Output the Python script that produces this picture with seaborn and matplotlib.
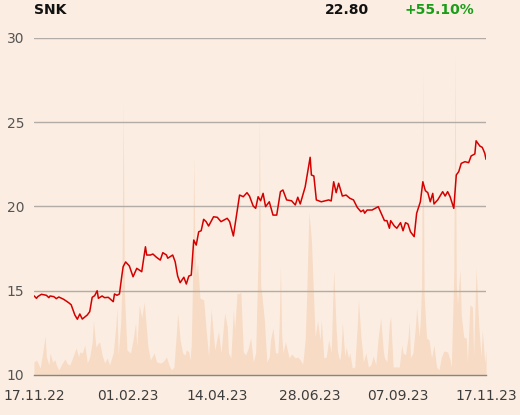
import numpy as np
import pandas as pd
import matplotlib
matplotlib.use("Agg")
import matplotlib.pyplot as plt
import matplotlib.dates as mdates
import seaborn as sns

# ---- data ----
start_date = "2022-11-17"
price_days = [0, 2, 3, 6, 10, 12, 13, 16, 18, 20, 24, 28, 30, 33, 35, 37, 39, 43, 45, 47,
              49, 51, 52, 55, 57, 60, 64, 65, 67, 69, 71, 72, 74, 77, 80, 83, 87, 90, 91, 94,
              96, 99, 102, 104, 107, 108, 112, 114, 116, 118, 121, 123, 125, 127, 129, 131, 133, 135, 137, 139,
              141, 145, 148, 151, 156, 158, 161, 164, 166, 169, 172, 174, 177, 179, 181, 183, 185, 187, 190, 193,
              196, 199, 201, 204, 208, 211, 213, 215, 219, 223, 224, 226, 228, 232, 238, 240, 242, 244, 246, 249,
              252, 255, 258, 261, 264, 266, 267, 269, 273, 278, 281, 283, 285, 287, 288, 291, 293, 296, 298, 300,
              302, 304, 307, 309, 312, 314, 316, 318, 320, 322, 323, 326, 330, 332, 334, 336, 339, 341, 343, 345,
              348, 351, 353, 356, 357, 360, 362, 364, 365]
price = [14.70, 14.55, 14.65, 14.79, 14.73, 14.59, 14.69, 14.65, 14.53, 14.63, 14.49, 14.29, 14.17, 13.56, 13.31, 13.62, 13.32, 13.56, 13.76, 14.61,
         14.71, 15.00, 14.55, 14.69, 14.59, 14.61, 14.35, 14.81, 14.73, 14.81, 15.93, 16.43, 16.71, 16.47, 15.83, 16.33, 16.13, 17.61, 17.12, 17.12,
         17.18, 16.98, 16.82, 17.26, 17.12, 16.93, 17.12, 16.72, 15.87, 15.48, 15.80, 15.40, 15.87, 15.93, 18.01, 17.71, 18.50, 18.56, 19.24, 19.10,
         18.84, 19.39, 19.36, 19.10, 19.30, 19.10, 18.25, 19.69, 20.68, 20.58, 20.82, 20.62, 20.03, 19.89, 20.58, 20.34, 20.78, 19.99, 20.28, 19.49,
         19.49, 20.88, 20.98, 20.39, 20.34, 20.09, 20.55, 20.15, 21.17, 22.92, 21.87, 21.81, 20.39, 20.28, 20.39, 20.33, 21.47, 20.82, 21.38, 20.62,
         20.68, 20.49, 20.39, 19.95, 19.69, 19.79, 19.60, 19.79, 19.79, 19.99, 19.49, 19.16, 19.16, 18.71, 19.16, 18.84, 18.71, 19.04, 18.56, 19.04,
         18.96, 18.50, 18.21, 19.60, 20.28, 21.47, 20.94, 20.82, 20.28, 20.78, 20.15, 20.39, 20.88, 20.62, 20.88, 20.58, 19.89, 21.87, 22.07, 22.56,
         22.66, 22.60, 23.00, 23.12, 23.90, 23.59, 23.51, 23.16, 22.80]

volume_days = [0, 2, 5, 7, 9, 10, 12, 13, 15, 17, 18, 20, 22, 25, 27, 29, 32, 34, 36, 37,
               39, 41, 43, 45, 47, 48, 50, 52, 53, 55, 57, 59, 61, 64, 66, 67, 68, 70, 71, 72,
               73, 75, 78, 80, 82, 83, 85, 87, 89, 90, 92, 94, 97, 99, 102, 104, 107, 109, 111, 113,
               115, 116, 118, 120, 122, 123, 125, 126, 127, 128, 129, 130, 131, 132, 133, 134, 137, 139, 141, 143,
               146, 148, 149, 151, 154, 156, 157, 159, 161, 162, 164, 165, 167, 169, 171, 173, 175, 177, 179, 181,
               182, 183, 184, 186, 188, 190, 191, 193, 195, 197, 198, 199, 200, 201, 203, 204, 206, 208, 211, 213,
               215, 217, 219, 220, 222, 224, 225, 227, 229, 231, 232, 234, 236, 238, 240, 242, 243, 244, 245, 246,
               247, 248, 249, 251, 252, 254, 255, 257, 259, 261, 262, 264, 266, 268, 270, 272, 274, 276, 278, 280,
               282, 283, 285, 287, 288, 290, 293, 295, 297, 298, 300, 302, 303, 304, 306, 308, 309, 311, 312, 313,
               314, 315, 317, 319, 321, 323, 325, 327, 329, 331, 334, 336, 337, 339, 340, 341, 342, 343, 344, 345,
               347, 349, 350, 352, 354, 355, 357, 359, 361, 362, 364, 365]
volume = [13, 15, 7, 22, 39, 18, 10, 22, 13, 15, 10, 5, 10, 16, 11, 10, 20, 27, 18, 23,
          22, 30, 12, 18, 33, 54, 28, 32, 33, 20, 12, 17, 10, 22, 48, 67, 20, 52, 90, 272,
          82, 25, 22, 35, 52, 28, 70, 57, 73, 58, 28, 15, 22, 13, 12, 13, 18, 10, 5, 8,
          42, 62, 35, 22, 20, 25, 23, 15, 30, 90, 218, 120, 100, 112, 95, 77, 75, 45, 18, 66,
          25, 38, 43, 22, 62, 48, 22, 17, 65, 45, 82, 81, 83, 23, 20, 27, 37, 13, 22, 120,
          257, 90, 80, 55, 13, 18, 35, 47, 22, 22, 50, 108, 40, 22, 33, 28, 17, 21, 17, 18,
          15, 11, 35, 72, 163, 135, 102, 38, 54, 35, 55, 17, 18, 35, 22, 104, 75, 45, 25, 18,
          15, 25, 52, 18, 28, 17, 22, 7, 8, 48, 75, 38, 13, 22, 8, 10, 19, 10, 38, 57,
          25, 17, 13, 52, 58, 8, 8, 8, 30, 22, 20, 37, 53, 17, 22, 48, 67, 38, 55, 90,
          303, 80, 37, 35, 17, 30, 8, 5, 18, 24, 23, 15, 8, 100, 320, 90, 70, 90, 105, 60,
          38, 37, 12, 70, 68, 18, 107, 52, 18, 45, 12, 25]

tick_dates = ["2022-11-17", "2023-02-01", "2023-04-14", "2023-06-28", "2023-09-07", "2023-11-17"]
tick_labels = ["17.11.22", "01.02.23", "14.04.23", "28.06.23", "07.09.23", "17.11.23"]
y_ticks = [10, 15, 20, 25, 30]

ticker = "SNK"
last_price = "22.80"
change = "+55.10%"

# ---- frames ----
t0 = pd.Timestamp(start_date)
df_price = pd.DataFrame({"date": t0 + pd.to_timedelta(price_days, unit="D"), "price": price})
df_vol = pd.DataFrame({"date": t0 + pd.to_timedelta(volume_days, unit="D"), "volume": volume})

BG = "#fbede1"
sns.set_theme(style="white")
plt.rcParams["font.family"] = ["DejaVu Sans"]

fig = plt.figure(figsize=(5.2, 4.15), dpi=100, facecolor=BG)
ax = fig.add_axes([34 / 520, 1 - 375 / 415, 452 / 520, 337 / 415])
ax2 = ax.twinx()
ax.set_zorder(ax2.get_zorder() + 1)
ax.patch.set_visible(False)
ax2.set_facecolor(BG)

# volume area
ax2.fill_between(df_vol["date"], df_vol["volume"], 0, color="#f7dbc5", linewidth=0)
ax2.set_ylim(0, 337)
ax2.set_yticks([])
for s in ax2.spines.values():
    s.set_visible(False)

# price line
sns.lineplot(data=df_price, x="date", y="price", ax=ax, color="#d40000", linewidth=1.1)

xmin = pd.Timestamp(tick_dates[0])
xmax = pd.Timestamp(tick_dates[-1])
ax.set_xlim(xmin, xmax)
ax2.set_xlim(xmin, xmax)
ax.set_ylim(10, 30)
ax.set_yticks(y_ticks)
ax.set_yticklabels([str(v) for v in y_ticks])
ax.set_xticks(pd.to_datetime(tick_dates))
ax.set_xticklabels(tick_labels)
ax.set_xlabel("")
ax.set_ylabel("")

for yv in y_ticks[1:]:
    ax.axhline(yv, color="#b3aca6", linewidth=1.0, zorder=0.5)

for name in ["top", "right", "left"]:
    ax.spines[name].set_visible(False)
ax.spines["bottom"].set_color("#8a8580")
ax.spines["bottom"].set_linewidth(1.0)

ax.tick_params(axis="x", direction="out", length=6, width=1, color="#8a8580",
               labelsize=10, labelcolor="#3d3d3d", pad=4)
ax.tick_params(axis="y", length=0, labelsize=10, labelcolor="#555555", pad=7)
ax.grid(False)

fig.text(34 / 520, 1 - 10 / 415, ticker, fontsize=10, fontweight="bold", color="#111111",
         ha="left", va="center")
fig.text(369 / 520, 1 - 10 / 415, last_price, fontsize=10, fontweight="bold", color="#111111",
         ha="right", va="center")
fig.text(405 / 520, 1 - 10 / 415, change, fontsize=10, fontweight="bold", color="#1a9e1a",
         ha="left", va="center")

fig.savefig("out.png", dpi=100, facecolor=BG)
